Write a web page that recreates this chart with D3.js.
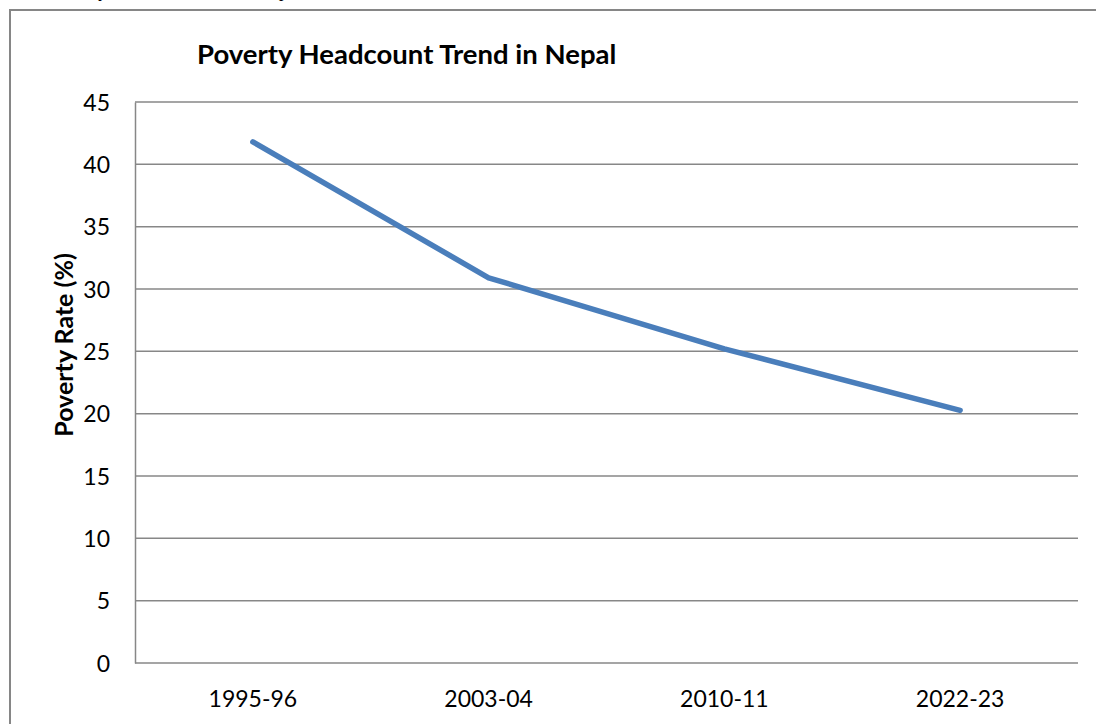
<!DOCTYPE html>
<html>
<head>
<meta charset="utf-8">
<script src="https://cdn.jsdelivr.net/npm/d3@7"></script>
<style>
  html, body { margin: 0; padding: 0; background: #fff; }
  svg { display: block; }
  text { font-family: Lato, "Open Sans", sans-serif; fill: #000; }
</style>
</head>
<body>
<svg id="chart" width="1096" height="724"></svg>
<script>
const categories = ["1995-96", "2003-04", "2010-11", "2022-23"];
const povertyRate = [41.8, 30.9, 25.2, 20.27];
const yTicks = [0, 5, 10, 15, 20, 25, 30, 35, 40, 45];
const chartTitle = "Poverty Headcount Trend in Nepal";
const yAxisTitle = "Poverty Rate (%)";
const captionText = "Poverty Headcount Trend in Nepal";

const svg = d3.select("#chart");
const W = 1096, H = 724;
const plot = { left: 135, right: 1078, top: 102, bottom: 663 };

// caption text above the chart, clipped by the page top (only descenders visible)
svg.append("text")
  .attr("x", 52).attr("y", -3)
  .style("font-family", "'Liberation Serif', serif")
  .style("font-style", "italic")
  .style("font-size", "18px")
  .text(captionText);

// outer chart border
svg.append("rect")
  .attr("x", 10).attr("y", 10)
  .attr("width", W + 20).attr("height", H)
  .attr("fill", "none")
  .attr("stroke", "#868686")
  .attr("stroke-width", 2);

const x = d3.scaleBand().domain(categories).range([plot.left, plot.right]);
const y = d3.scaleLinear().domain([0, 45]).range([plot.bottom, plot.top]);

// gridlines
svg.append("g")
  .selectAll("line")
  .data(yTicks)
  .join("line")
  .attr("x1", plot.left).attr("x2", plot.right)
  .attr("y1", d => y(d)).attr("y2", d => y(d))
  .attr("stroke", "#878787")
  .attr("stroke-width", 1.5);

// y axis
const yAxis = svg.append("g")
  .attr("transform", `translate(${plot.left},0)`)
  .call(d3.axisLeft(y).tickValues(yTicks).tickSize(0).tickPadding(25).tickFormat(d3.format("d")));
yAxis.select(".domain").attr("stroke", "#878787").attr("stroke-width", 1.5);
yAxis.selectAll("text").style("font-size", "23px").attr("dy", "0.36em");

// x axis
const xAxis = svg.append("g")
  .attr("transform", `translate(0,${plot.bottom})`)
  .call(d3.axisBottom(x).tickSize(0));
xAxis.select(".domain").remove();
xAxis.selectAll("text").style("font-size", "23px").attr("y", 44).attr("dy", 0);

// line
const line = d3.line()
  .x((d, i) => x(categories[i]) + x.bandwidth() / 2)
  .y(d => y(d));
svg.append("path")
  .datum(povertyRate)
  .attr("d", line)
  .attr("fill", "none")
  .attr("stroke", "#4a7ebb")
  .attr("stroke-width", 5.5)
  .attr("stroke-linecap", "round")
  .attr("stroke-linejoin", "round");

// title
svg.append("text")
  .attr("x", 197).attr("y", 64)
  .style("font-size", "27.5px")
  .style("font-weight", "bold")
  .text(chartTitle);

// y axis title
svg.append("text")
  .attr("transform", `translate(73,345) rotate(-90)`)
  .attr("text-anchor", "middle")
  .style("font-size", "25px")
  .style("font-weight", "bold")
  .text(yAxisTitle);
</script>
</body>
</html>
